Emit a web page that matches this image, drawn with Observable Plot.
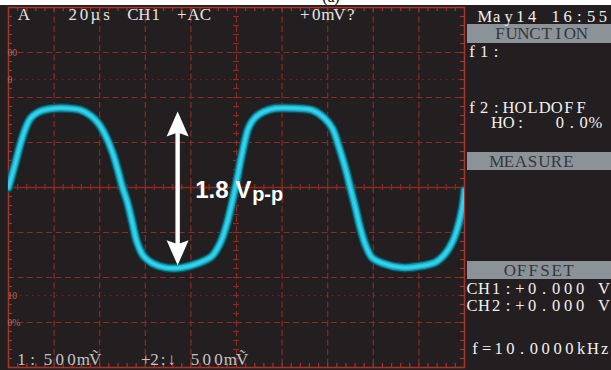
<!DOCTYPE html>
<html><head><meta charset="utf-8">
<script src="https://cdn.jsdelivr.net/npm/d3@7"></script>
<script src="https://cdn.jsdelivr.net/npm/@observablehq/plot@0.6"></script>
<style>
html,body{margin:0;padding:0;background:#fff;}
#wrap{position:relative;width:611px;height:370px;overflow:hidden;background:#fff;}
#plot{position:absolute;left:0;top:5px;}
#overlay{position:absolute;left:0;top:0;pointer-events:none;}
</style></head><body>
<div id="wrap"><div id="plot"></div><svg id="overlay" width="611" height="370"></svg></div>
<script>
const timeUs = [0, 3.1, 5.3, 7.5, 9.7, 12.6, 15.4, 20.6, 25.9, 31.6, 36.0, 39.5, 42.5, 45.6, 48.2, 50.0,
  52.1, 54.3, 56.4, 59.2, 63.0, 68.9, 76.2, 83.3, 89.3, 93.0, 95.9, 98.1, 100.3, 102.5, 105.4, 108.3,
  111.8, 117.1, 125.9, 133.2, 138.2, 142.0, 144.7, 147.8, 150.0, 152.2, 154.4, 156.6, 159.5, 163.9,
  172.7, 181.4, 187.3, 191.7, 194.6, 196.8, 199.0, 200.0];
const volts = [0, 0.28, 0.49, 0.66, 0.77, 0.83, 0.86, 0.88, 0.88, 0.86, 0.80, 0.71, 0.58, 0.39, 0.17, 0,
  -0.16, -0.39, -0.61, -0.76, -0.84, -0.89, -0.89, -0.84, -0.76, -0.61, -0.39, -0.16, 0.10, 0.38, 0.67, 0.78,
  0.84, 0.88, 0.88, 0.86, 0.78, 0.66, 0.47, 0.21, -0.01, -0.23, -0.46, -0.64, -0.78, -0.84,
  -0.89, -0.87, -0.83, -0.73, -0.61, -0.46, -0.23, -0.03];
const gridTimes = [20, 40, 60, 80, 100, 120, 140, 160, 180];
const gridVolts = [-1.5, -1, -0.5, 0.5, 1, 1.5];
const markerVolts = [1.5, 1.2, -1.2, -1.5];
const markerTexts = ["00", "0", "10", "0%"];
const arrowTime = [74.4];
const arrowTop = [0.84];
const arrowBottom = [-0.87];
const ampLabelMain = ["1.8 V"];
const ampLabelSub = ["p-p"];
const topLabels = ["A", "20\u00b5s", "CH1", "+AC", "+0mV?"];
const bottomLabels = ["1:", "500m\u1E7C", "+2:\u2193", "500m\u1E7C"];
const panelTexts = ["May14 16:55", "f1:", "f2:HOLDOFF", "HO:", "0.0%", "CH1:+0.000 V", "CH2:+0.000 V", "f=10.0000kHz"];
const panelHeaders = ["FUNCTION", "MEASURE", "OFFSET"];
const figureTag = "(a)";

// ---- styles ----
const BG = "#231f20", GRID = "#8a2b22", BORDER = "#a3352b";
const minorT = d3.range(0, 200.001, 4);
const minorV = d3.range(-2, 2.0001, 0.1);

function arrowMark(index, scales) {
  const NS = "http://www.w3.org/2000/svg";
  const g = document.createElementNS(NS, "g");
  for (let i = 0; i < arrowTime.length; i++) {
    const X = scales.x(arrowTime[i]), T = scales.y(arrowTop[i]), B = scales.y(arrowBottom[i]);
    const hl = 25, hw = 11;
    const shaft = document.createElementNS(NS, "rect");
    shaft.setAttribute("x", X - 2.2); shaft.setAttribute("width", 4.4);
    shaft.setAttribute("y", T + 15); shaft.setAttribute("height", B - T - 30);
    shaft.setAttribute("fill", "#fff");
    g.appendChild(shaft);
    const p = document.createElementNS(NS, "path");
    p.setAttribute("d",
      `M${X},${T}L${X + hw},${T + hl}L${X},${T + hl - 4}L${X - hw},${T + hl}Z` +
      `M${X},${B}L${X + hw},${B - hl}L${X},${B - hl + 4}L${X - hw},${B - hl}Z`);
    p.setAttribute("fill", "#fff");
    g.appendChild(p);
  }
  return g;
}

const chart = Plot.plot({
  width: 611, height: 365,
  marginLeft: 8, marginRight: 147, marginTop: 2, marginBottom: 3,
  x: {domain: [0, 200], axis: null},
  y: {domain: [-2, 2], axis: null},
  style: {background: BG, overflow: "visible"},
  marks: [
    Plot.ruleX(gridTimes, {x: d => d, stroke: GRID, strokeWidth: 1.2, strokeDasharray: "6,3.5"}),
    Plot.ruleY(gridVolts, {y: d => d, stroke: GRID, strokeWidth: 1.2, strokeDasharray: "6,3.5"}),
    Plot.ruleY(markerVolts.slice(1, 3), {y: d => d, stroke: "#7a2a24", strokeWidth: 1.2, strokeDasharray: "1.5,4.5"}),
    Plot.ruleY([0], {y: d => d, stroke: GRID, strokeWidth: 1.3}),
    Plot.ruleX(minorT, {x: d => d, y1: () => 0, y2: () => 0, insetTop: -3, insetBottom: -3, stroke: GRID, strokeWidth: 1.2}),
    Plot.ruleY(minorV, {y: d => d, x1: () => 100, x2: () => 100, insetLeft: -3, insetRight: -3, stroke: GRID, strokeWidth: 1.2}),
    Plot.ruleX(minorT, {x: d => d, y1: () => 2, y2: () => 2, insetTop: 0, insetBottom: -4, stroke: BORDER, strokeWidth: 1.2}),
    Plot.ruleX(minorT, {x: d => d, y1: () => -2, y2: () => -2, insetTop: -4, insetBottom: 0, stroke: BORDER, strokeWidth: 1.2}),
    Plot.ruleY(minorV, {y: d => d, x1: () => 0, x2: () => 0, insetLeft: 0, insetRight: -4, stroke: BORDER, strokeWidth: 1.2}),
    Plot.ruleY(minorV, {y: d => d, x1: () => 200, x2: () => 200, insetLeft: -4, insetRight: 0, stroke: BORDER, strokeWidth: 1.2}),
    Plot.frame({stroke: BORDER, strokeWidth: 1.5}),
    Plot.text(markerTexts, {x: () => 0, y: (d, i) => markerVolts[i], text: d => d, textAnchor: "start", dx: -1,
      fontSize: 9.5, fill: "#c0655c", fontFamily: "Liberation Serif"}),
    Plot.line(timeUs, {x: d => d, y: (d, i) => volts[i], curve: "catmull-rom", stroke: "#0a5664", strokeWidth: 9.5, strokeOpacity: 0.85, clip: true}),
    Plot.line(timeUs, {x: d => d, y: (d, i) => volts[i], curve: "catmull-rom", stroke: "#1496ad", strokeWidth: 7, clip: true}),
    Plot.line(timeUs, {x: d => d, y: (d, i) => volts[i], curve: "catmull-rom", stroke: "#23c5df", strokeWidth: 4.5, clip: true}),
    Plot.line(timeUs, {x: d => d, y: (d, i) => volts[i], curve: "catmull-rom", stroke: "#3cd2ea", strokeWidth: 1.8, clip: true}),
    arrowMark,
    Plot.text(ampLabelMain, {x: () => arrowTime[0], y: () => 0, text: d => d, textAnchor: "start", lineAnchor: "bottom",
      dx: 17, dy: 10, fontSize: 24, fontWeight: "bold", fill: "#fff", fontFamily: "Liberation Sans"}),
    Plot.text(ampLabelSub, {x: () => arrowTime[0], y: () => 0, text: d => d, textAnchor: "start", lineAnchor: "bottom",
      dx: 74, dy: 13, fontSize: 20, fontWeight: "bold", fill: "#fff", fontFamily: "Liberation Sans"})
  ]
});
document.getElementById("plot").appendChild(chart);

// ---- overlay: screen labels and side panel ----
const NS = "http://www.w3.org/2000/svg";
const ov = document.getElementById("overlay");
function rect(x, y, w, h, fill) {
  const r = document.createElementNS(NS, "rect");
  r.setAttribute("x", x); r.setAttribute("y", y); r.setAttribute("width", w); r.setAttribute("height", h);
  r.setAttribute("fill", fill); ov.appendChild(r);
}
function cellText(str, x0, base, cell, size, fill) {
  const chars = Array.from(str);
  const xs = [], kept = [];
  chars.forEach((c, i) => { if (c !== " ") { xs.push((x0 + cell * (i + 0.5)).toFixed(1)); kept.push(c); } });
  const t = document.createElementNS(NS, "text");
  t.setAttribute("x", xs.join(" ")); t.setAttribute("y", base);
  t.setAttribute("text-anchor", "middle");
  t.setAttribute("font-family", "Liberation Serif, DejaVu Serif, serif");
  t.setAttribute("font-size", size); t.setAttribute("fill", fill);
  t.textContent = kept.join("");
  ov.appendChild(t);
}
// figure tag (mostly cut off at the top)
cellText(figureTag, 322, 1.5, 6, 16, "#000");

// top line inside the screen
const topPos = [[18, 11.6], [67, 11.3], [127, 11.5], [176, 11.7], [299, 11.5]];
topLabels.forEach((s, i) => cellText(s, topPos[i][0], 20, topPos[i][1], 17, "#e4e4e4"));
// bottom line
const botPos = [[16, 11], [42, 11.8], [141.5, 8.6], [189, 11.8]];
bottomLabels.forEach((s, i) => cellText(s, botPos[i][0], 365, botPos[i][1], 17, "#c4c4c4"));

// side panel
const BAR = "#8b9298";
rect(467, 24, 144, 19, BAR);
rect(467, 152, 144, 18, BAR);
rect(467, 261, 144, 18, BAR);
const hdrPos = [[494, 38.5, 11.7], [491, 166.5, 11.9], [504, 275.5, 11.7]];
panelHeaders.forEach((s, i) => cellText(s, hdrPos[i][0], hdrPos[i][1], hdrPos[i][2], 17, "#34373a"));
const panPos = [[479, 21.5, 11.8], [466, 56.5, 12], [466, 113, 12.1], [491, 128, 11.8], [554, 128, 11.8],
  [466, 294, 12], [466, 311, 12], [469, 354, 11.8]];
panelTexts.forEach((s, i) => cellText(s, panPos[i][0], panPos[i][1], panPos[i][2], 16.5, "#f2f2f2"));
</script>
</body></html>
